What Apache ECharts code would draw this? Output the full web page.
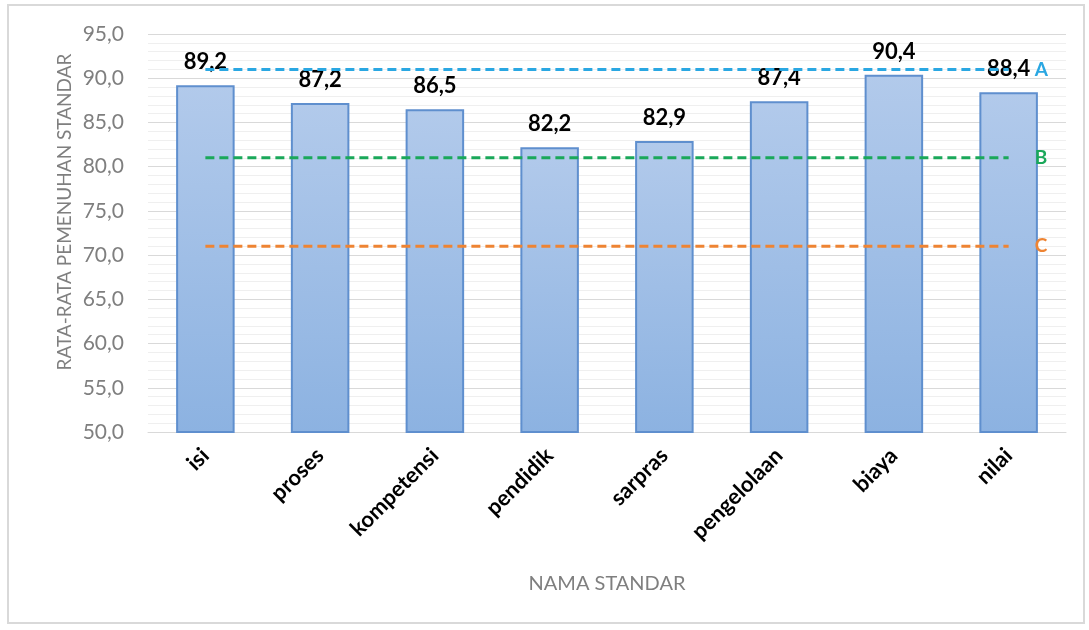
<!DOCTYPE html>
<html>
<head>
<meta charset="utf-8">
<script src="https://cdn.jsdelivr.net/npm/echarts@6/dist/echarts.min.js"></script>
<style>
  html, body { margin: 0; padding: 0; background: #ffffff; }
  #frame { position: absolute; left: 7px; top: 4px; width: 1078px; height: 620px; border: 2px solid #d9d9d9; box-sizing: border-box; }
  #chart { position: absolute; left: 0; top: 0; width: 1089px; height: 630px; }
</style>
</head>
<body>
<div id="frame"></div>
<div id="chart"></div>
<script>
// Standards and their average fulfilment scores
const categories = ['isi', 'proses', 'kompetensi', 'pendidik', 'sarpras', 'pengelolaan', 'biaya', 'nilai'];
const scores = [89.2, 87.2, 86.5, 82.2, 82.9, 87.4, 90.4, 88.4];

// Grade thresholds drawn as dashed reference lines
const levelA = [91, 91, 91, 91, 91, 91, 91, 91];
const levelB = [81, 81, 81, 81, 81, 81, 81, 81];
const levelC = [71, 71, 71, 71, 71, 71, 71, 71];

const fmt = v => v.toFixed(1).replace('.', ',');
const FONT = 'Lato, "Open Sans", sans-serif';

function levelSeries(name, data, color) {
  return {
    name: name,
    type: 'line',
    data: data,
    symbol: 'none',
    silent: true,
    z: 5,
    lineStyle: { color: color, width: 3, type: [9, 5] },
    endLabel: {
      show: true,
      formatter: name,
      color: color,
      fontFamily: FONT,
      fontWeight: 'bold',
      fontSize: 19,
      distance: 26
    }
  };
}

const chart = echarts.init(document.getElementById('chart'), null, { renderer: 'canvas' });
chart.setOption({
  animation: false,
  backgroundColor: 'transparent',
  grid: { left: 148, right: 23, top: 34, bottom: 198 },
  graphic: [
    {
      type: 'text',
      x: 65,
      y: 212,
      rotation: Math.PI / 2,
      style: {
        text: 'RATA-RATA PEMENUHAN STANDAR',
        fill: '#7f7f7f',
        font: '19px ' + FONT,
        align: 'center',
        verticalAlign: 'middle'
      }
    },
    {
      type: 'text',
      x: 607,
      y: 584,
      style: {
        text: 'NAMA STANDAR',
        fill: '#7f7f7f',
        font: '20px ' + FONT,
        align: 'center',
        verticalAlign: 'middle'
      }
    }
  ],
  xAxis: {
    type: 'category',
    data: categories,
    axisLine: { lineStyle: { color: '#d9d9d9', width: 1 } },
    axisTick: { show: false },
    axisLabel: {
      rotate: 45,
      margin: 20,
      color: '#000000',
      fontFamily: FONT,
      fontWeight: 'bold',
      fontSize: 22
    }
  },
  yAxis: {
    type: 'value',
    min: 50,
    max: 95,
    interval: 5,
    axisLine: { show: false },
    axisTick: { show: false },
    axisLabel: {
      formatter: v => fmt(v),
      color: '#7f7f7f',
      fontFamily: FONT,
      fontSize: 21,
      margin: 24
    },
    splitLine: { lineStyle: { color: '#d9d9d9', width: 1 } },
    minorTick: { show: false, splitNumber: 5 },
    minorSplitLine: { show: true, lineStyle: { color: '#efefef', width: 1 } }
  },
  series: [
    {
      name: 'Rata-rata',
      type: 'bar',
      data: scores,
      barWidth: '51%',
      itemStyle: {
        color: new echarts.graphic.LinearGradient(0, 0, 0, 1, [
          { offset: 0, color: '#b2caeb' },
          { offset: 1, color: '#8cb2e1' }
        ]),
        borderColor: '#5f8fce',
        borderWidth: 2
      },
      label: {
        show: true,
        position: 'top',
        distance: 12,
        formatter: p => fmt(p.value),
        color: '#000000',
        fontFamily: FONT,
        fontWeight: 'bold',
        fontSize: 22
      }
    },
    levelSeries('A', levelA, '#2aa7e2'),
    levelSeries('B', levelB, '#1aa85a'),
    levelSeries('C', levelC, '#ee8433')
  ]
});
</script>
</body>
</html>
